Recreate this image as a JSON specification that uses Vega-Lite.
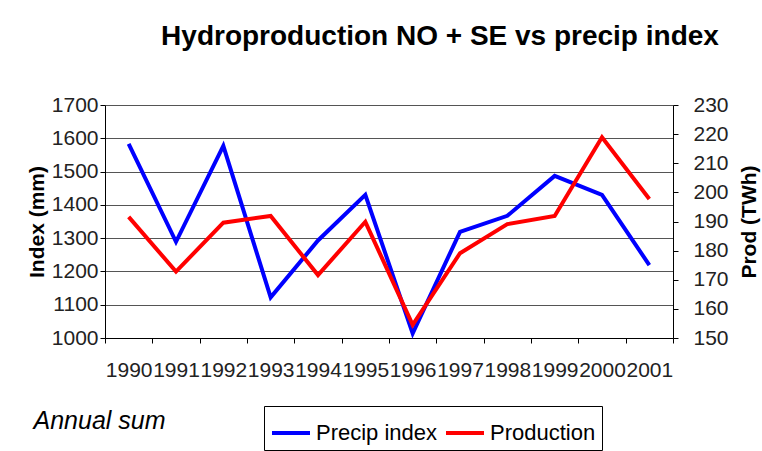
{
  "$schema": "https://vega.github.io/schema/vega-lite/v6.json",
  "width": 568,
  "height": 233,
  "autosize": {"type": "none"},
  "padding": {"left": 105, "top": 105, "right": 89, "bottom": 113},
  "background": "white",
  "config": {
    "font": "Liberation Sans",
    "view": {"stroke": null},
    "axis": {"labelColor": "#222222", "tickColor": "black", "domainColor": "black", "titleColor": "black", "tickSize": 5}
  },
  "title": {
    "text": "Hydroproduction NO + SE vs precip index",
    "fontSize": 28,
    "fontWeight": "bold",
    "color": "black",
    "anchor": "middle",
    "dx": 51,
    "offset": 43
  },
  "data": {
    "values": [
      {"year": "1990", "precip": 1583, "prod": 191.6},
      {"year": "1991", "precip": 1289, "prod": 172.8},
      {"year": "1992", "precip": 1577, "prod": 189.6},
      {"year": "1993", "precip": 1122, "prod": 191.9},
      {"year": "1994", "precip": 1293, "prod": 171.6},
      {"year": "1995", "precip": 1430, "prod": 189.9},
      {"year": "1996", "precip": 1014, "prod": 154.5},
      {"year": "1997", "precip": 1319, "prod": 179.1},
      {"year": "1998", "precip": 1367, "prod": 189.1},
      {"year": "1999", "precip": 1487, "prod": 191.9},
      {"year": "2000", "precip": 1430, "prod": 218.9},
      {"year": "2001", "precip": 1219, "prod": 197.7}
    ]
  },
  "encoding": {
    "x": {
      "field": "year",
      "type": "ordinal",
      "bandPosition": 0.5,
      "scale": {"type": "band", "paddingInner": 0, "paddingOuter": 0},
      "axis": {
        "title": "Annual sum",
        "titleFontStyle": "italic",
        "titleFontWeight": "normal",
        "titleFontSize": 25,
        "titleX": -72,
        "titleY": 82,
        "titleAlign": "left",
        "titleBaseline": "middle",
        "labelAngle": 0,
        "labelFontSize": 21,
        "labelOverlap": false,
        "labelFlush": false,
        "labelPadding": 16,
        "tickBand": "extent",
        "grid": false
      }
    }
  },
  "layer": [
    {
      "mark": {"type": "line", "strokeWidth": 4},
      "encoding": {
        "y": {
          "field": "precip",
          "type": "quantitative",
          "scale": {"domain": [1000, 1700], "nice": false, "zero": false},
          "axis": {
            "orient": "left",
            "values": [1000, 1100, 1200, 1300, 1400, 1500, 1600, 1700],
            "format": "d",
            "title": "Index (mm)",
            "titleFontSize": 21,
            "titleFontWeight": "bold",
            "titlePadding": 4,
            "labelFontSize": 21,
            "labelPadding": 2,
            "grid": true,
            "gridColor": "#555555",
            "gridOpacity": 1
          }
        },
        "color": {
          "datum": "Precip index",
          "type": "nominal",
          "scale": {"domain": ["Precip index", "Production"], "range": ["#0000ff", "#ff0000"]},
          "legend": {
            "orient": "none",
            "legendX": 159,
            "legendY": 301,
            "direction": "horizontal",
            "title": null,
            "symbolType": "stroke",
            "symbolSize": 1444,
            "symbolStrokeWidth": 4,
            "labelFontSize": 22,
            "labelColor": "black",
            "strokeColor": "black",
            "fillColor": "white",
            "padding": 6,
            "columnPadding": 0,
            "labelOffset": 4
          }
        }
      }
    },
    {
      "mark": {"type": "line", "strokeWidth": 4},
      "encoding": {
        "y": {
          "field": "prod",
          "type": "quantitative",
          "scale": {"domain": [150, 230], "nice": false, "zero": false},
          "axis": {
            "orient": "right",
            "values": [150, 160, 170, 180, 190, 200, 210, 220, 230],
            "format": "d",
            "title": "Prod (TWh)",
            "titleAngle": 270,
            "titleBaseline": "top",
            "titleFontSize": 21,
            "titleFontWeight": "bold",
            "titlePadding": 10,
            "labelFontSize": 21,
            "labelPadding": 15,
            "grid": false
          }
        },
        "color": {
          "datum": "Production",
          "type": "nominal"
        }
      }
    }
  ],
  "resolve": {"scale": {"y": "independent"}}
}
